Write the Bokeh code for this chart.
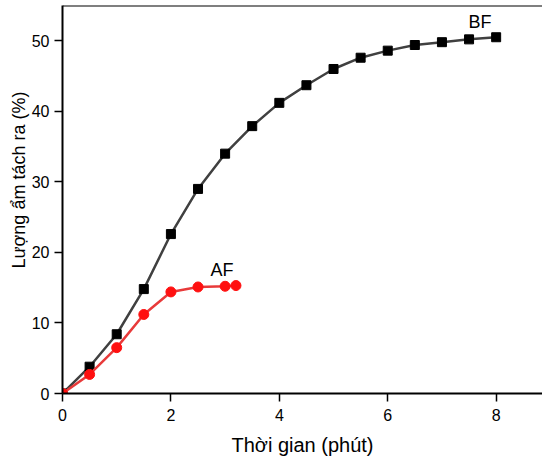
from bokeh.plotting import figure
from bokeh.embed import file_html
from bokeh.resources import INLINE
from bokeh.models import Range1d, Span, Label, FixedTicker, Title

bf_x = [0, 0.5, 1, 1.5, 2, 2.5, 3, 3.5, 4, 4.5, 5, 5.5, 6, 6.5, 7, 7.5, 8]
bf_y = [0, 3.8, 8.4, 14.8, 22.6, 29.0, 34.0, 37.9, 41.2, 43.7, 46.0, 47.6, 48.6, 49.4, 49.8, 50.2, 50.5]
af_x = [0, 0.5, 1, 1.5, 2, 2.5, 3, 3.2]
af_y = [0, 2.7, 6.5, 11.2, 14.4, 15.1, 15.2, 15.3]
x_ticks = [0, 2, 4, 6, 8]
y_ticks = [0, 10, 20, 30, 40, 50]

FONT = "Liberation Sans"
X_MAX = 8.855
Y_MAX = 55.0

p = figure(width=542, height=459, output_backend="svg", toolbar_location=None,
           x_range=Range1d(0, X_MAX), y_range=Range1d(0, Y_MAX),
           min_border_left=62, min_border_right=0, min_border_top=5, min_border_bottom=66)
p.outline_line_color = None
p.grid.visible = False
p.background_fill_color = "white"
p.border_fill_color = "white"

for ax in (p.xaxis[0], p.yaxis[0]):
    ax.axis_line_width = 2
    ax.axis_line_color = "black"
    ax.major_tick_line_width = 1.5
    ax.major_tick_out = 8
    ax.major_tick_in = 0
    ax.minor_tick_line_color = None
    ax.major_label_text_font = FONT
    ax.major_label_text_font_size = "16px"
    ax.major_label_text_color = "black"
    ax.axis_label_text_font = FONT
    ax.axis_label_text_font_size = "20px"
    ax.axis_label_text_font_style = "normal"
    ax.axis_label_text_color = "black"

p.xaxis.ticker = FixedTicker(ticks=x_ticks)
p.yaxis.ticker = FixedTicker(ticks=y_ticks)
p.xaxis.major_label_standoff = 7
p.yaxis.major_label_standoff = 5
p.xaxis.axis_label = "Thời gian (phút)"
p.xaxis.axis_label_standoff = 10

ylab = Title(text="Lượng ẩm tách ra (%)", align="left", offset=125,
             text_font=FONT, text_font_size="18px", text_font_style="normal",
             text_color="black", standoff=0)
p.add_layout(ylab, "left")

p.add_layout(Span(location=Y_MAX, dimension="width", line_color="black", line_width=2))

p.line(bf_x, bf_y, line_color="#404040", line_width=2.5)
p.scatter(bf_x, bf_y, marker="square", size=9, fill_color="black", line_color="black")
p.line(af_x, af_y, line_color="#e83a3a", line_width=2.5)
p.scatter(af_x, af_y, marker="circle", size=10, fill_color="#ff1010", line_color="#ff1010")

p.add_layout(Label(x=7.49, y=52.65, text="BF", text_baseline="alphabetic",
                   text_font=FONT, text_font_size="18px", text_color="black"))
p.add_layout(Label(x=2.73, y=17.5, text="AF", text_baseline="alphabetic",
                   text_font=FONT, text_font_size="18px", text_color="black"))

open("out.html", "w").write(file_html(p, INLINE))
